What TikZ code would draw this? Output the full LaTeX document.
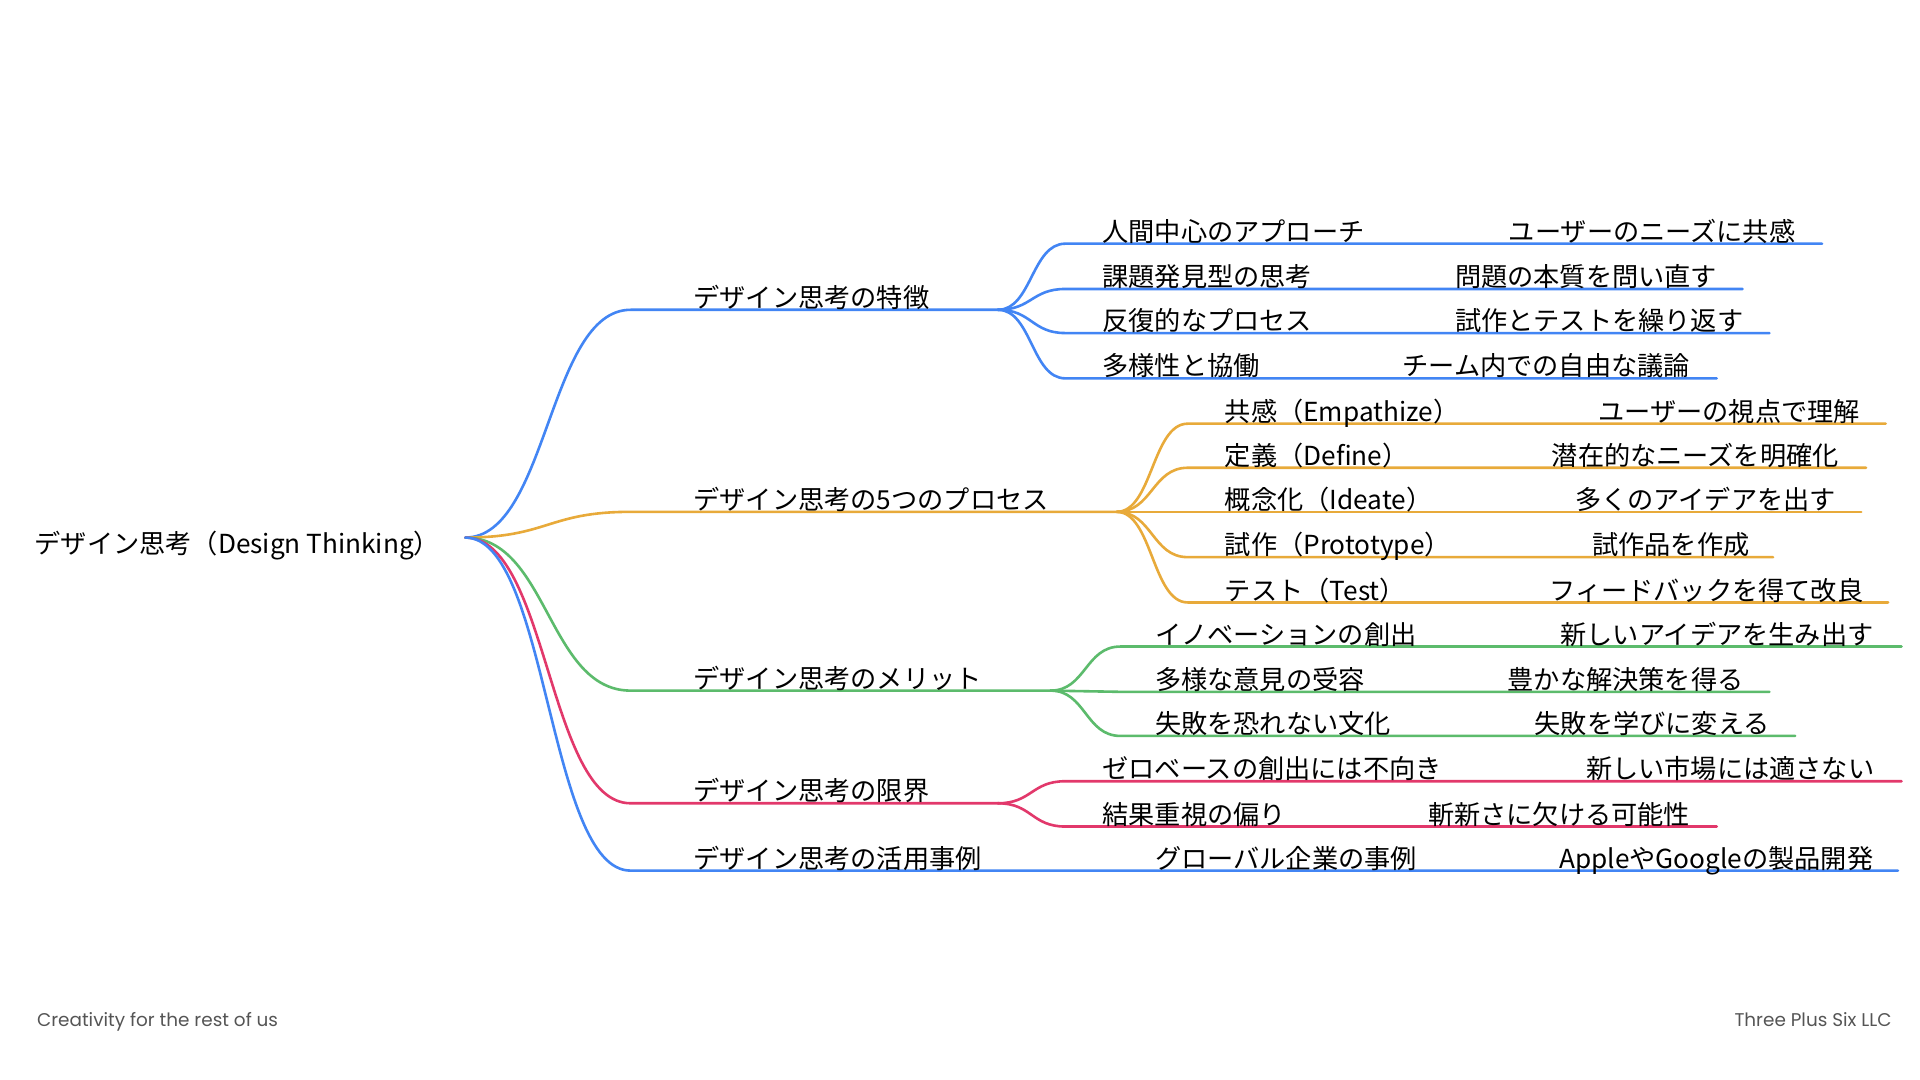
\documentclass[tikz,border=0pt]{standalone}
\usepackage{fontspec}
\setmainfont{Noto Sans CJK JP}
\newfontfamily\footfont{Poppins}
\usetikzlibrary{calc}
\definecolor{mblue}{HTML}{4285F4}
\definecolor{morange}{HTML}{E8AA3A}
\definecolor{mgreen}{HTML}{5CBB6C}
\definecolor{mpink}{HTML}{E2386B}
\definecolor{footgray}{HTML}{555555}
\tikzset{
  link/.style={to path={let \p1=(\tikztostart),\p2=(\tikztotarget) in
      .. controls ({(\x1+\x2)/2},\y1) and ({(\x1+\x2)/2},\y2) .. (\tikztotarget)}},
  br/.style={line width=1.3pt, line cap=round},
  lbl/.style={anchor=base west, inner sep=0pt, font=\fontsize{13.1pt}{15pt}\selectfont, text=black},
  foot/.style={inner sep=0pt, font=\footfont\fontsize{9.2pt}{11pt}\selectfont, text=footgray}
}
% #1 name, #2 line y, #3 child text, #4 grandchild text x, #5 grandchild text, #6 line end x
\newcommand\mmleaf[6]{%
  \coordinate (#1s) at (\mmsx,#2);
  \coordinate (#1m) at ({#4-30},#2);
  \coordinate (#1e) at (#6,#2);
  \draw[br,\mmc] (\mmj) to[link] (#1s) -- (#1m) -- (#1e);
  \node[lbl] (#1) at (\mmtx,#2-2) {#3};
  \node[lbl] (#1g) at (#4,#2-2) {#5};
}
\begin{document}
\begin{tikzpicture}[x=0.61224pt,y=-0.61224pt]
\fill[white] (0,0) rectangle (1568,882);
\useasboundingbox (0,0) rectangle (1568,882);

% root
\node[lbl] (root) at (28,452) {デザイン思考（Design Thinking）};
\coordinate (R) at (380,439);

% level 1
\coordinate (As) at (515,253); \coordinate (Aj) at (815,253);
\coordinate (Bs) at (515,418); \coordinate (Bj) at (912,418);
\coordinate (Cs) at (515,564); \coordinate (Cj) at (858,564);
\coordinate (Ds) at (515,656); \coordinate (Dj) at (815,656);
\coordinate (Es) at (515,711); \coordinate (Ee) at (1550,711);

\draw[br,mblue] (R) to[link] (As) -- (Aj);
\draw[br,morange] (R) to[link] (Bs) -- (Bj);
\draw[br,mgreen] (R) to[link] (Cs) -- (Cj);
\draw[br,mpink] (R) to[link] (Ds) -- (Dj);
\draw[br,mblue] (R) to[link] (Es) -- (Ee);

\node[lbl] (A) at (566,251) {デザイン思考の特徴};
\node[lbl] (B) at (566,416) {デザイン思考の5つのプロセス};
\node[lbl] (C) at (566,562) {デザイン思考のメリット};
\node[lbl] (D) at (566,654) {デザイン思考の限界};
\node[lbl] (E) at (566,709) {デザイン思考の活用事例};
\node[lbl] (E1) at (943,709) {グローバル企業の事例};
\node[lbl] (E1g) at (1273,709) {AppleやGoogleの製品開発};

% children of A
\def\mmj{Aj}\def\mmc{mblue}\def\mmsx{870}\def\mmtx{900}
\mmleaf{A1}{199}{人間中心のアプローチ}{1232}{ユーザーのニーズに共感}{1488}
\mmleaf{A2}{236}{課題発見型の思考}{1188}{問題の本質を問い直す}{1423}
\mmleaf{A3}{272}{反復的なプロセス}{1188}{試作とテストを繰り返す}{1445}
\mmleaf{A4}{309}{多様性と協働}{1145}{チーム内での自由な議論}{1402}

% children of B
\def\mmj{Bj}\def\mmc{morange}\def\mmsx{970}\def\mmtx{1000}
\mmleaf{B1}{346}{共感（Empathize）}{1305}{ユーザーの視点で理解}{1540}
\mmleaf{B2}{382}{定義（Define）}{1267}{潜在的なニーズを明確化}{1524}
\mmleaf{B3}{418}{概念化（Ideate）}{1286}{多くのアイデアを出す}{1520}
\mmleaf{B4}{455}{試作（Prototype）}{1300}{試作品を作成}{1448}
\mmleaf{B5}{492}{テスト（Test）}{1265}{フィードバックを得て改良}{1542}

% children of C
\def\mmj{Cj}\def\mmc{mgreen}\def\mmsx{915}\def\mmtx{943}
\mmleaf{C1}{528}{イノベーションの創出}{1274}{新しいアイデアを生み出す}{1553}
\mmleaf{C2}{565}{多様な意見の受容}{1231}{豊かな解決策を得る}{1445}
\mmleaf{C3}{601}{失敗を恐れない文化}{1253}{失敗を学びに変える}{1466}

% children of D
\def\mmj{Dj}\def\mmc{mpink}\def\mmsx{870}\def\mmtx{900}
\mmleaf{D1}{638}{ゼロベースの創出には不向き}{1295}{新しい市場には適さない}{1553}
\mmleaf{D2}{675}{結果重視の偏り}{1166}{斬新さに欠ける可能性}{1402}

% footer
\node[foot,anchor=base west] (f1) at (30,838) {Creativity for the rest of us};
\node[foot,anchor=base east] (f2) at (1545,838) {Three Plus Six LLC};
\end{tikzpicture}
\end{document}
